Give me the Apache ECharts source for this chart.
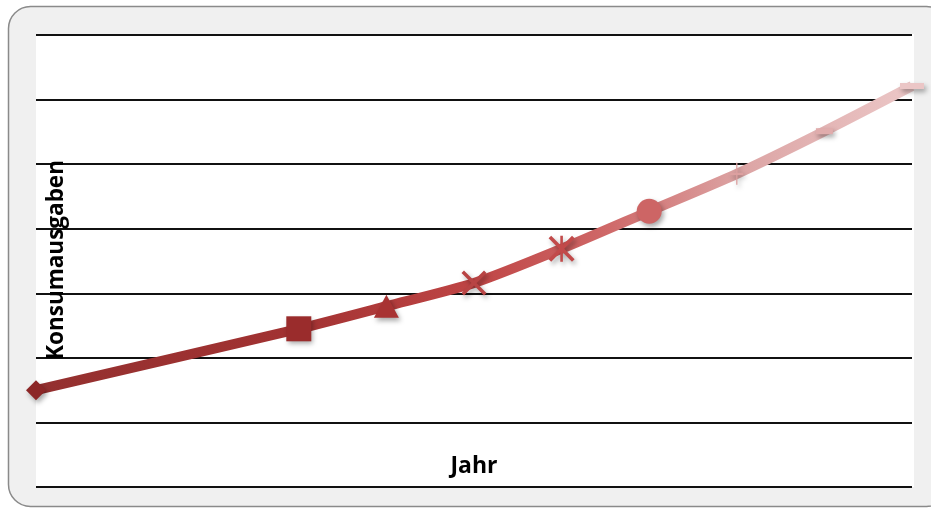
<!DOCTYPE html>
<html><head><meta charset="utf-8">
<script src="https://cdn.jsdelivr.net/npm/echarts@6/dist/echarts.min.js"></script>
<style>html,body{margin:0;padding:0;background:#fff}#c{width:931px;height:509px}</style>
</head><body><div id="c"></div>
<script>
// Data
const years = [0, 3, 4, 5, 6, 7, 8, 9, 10];
const values = [1.50, 2.45, 2.80, 3.16, 3.69, 4.27, 4.85, 5.51, 6.21];
const pointColors = ['#8c2626','#9a2c2c','#a83333','#b84444','#c24a4a','#cd6565','#dca0a0','#e0acac','#ebc6c6'];
const yTicks = [0,1,2,3,4,5,6,7];
const xTitle = 'Jahr';
const yTitle = 'Konsumausgaben';

const X = 'path://M2,0 L10,8 L18,0 L20,2 L12,10 L20,18 L18,20 L10,12 L2,20 L0,18 L8,10 L0,2 Z';
const AST = 'path://M2,0 L10,8 L18,0 L20,2 L12,10 L20,18 L18,20 L10,12 L2,20 L0,18 L8,10 L0,2 Z M9,0 L11,0 L11,20 L9,20 Z';
const PLUS = 'path://M9,0 L11,0 L11,9 L20,9 L20,11 L11,11 L11,20 L9,20 L9,11 L0,11 L0,9 L9,9 Z';
const DASH = 'path://M0,0 L20,0 L20,5 L0,5 Z';
const symbols = ['diamond','rect','triangle',X,AST,'circle',PLUS,DASH,DASH];
const sizes = [[20,20],[25,25],[25,23],[25,25],[26,26],[25,25],[13,22],[17,6],[24,6]];

const chart = echarts.init(document.getElementById('c'), null, {renderer:'canvas'});
const data = years.map((x,i)=>({
  value:[x, values[i]],
  symbol: symbols[i],
  symbolSize: sizes[i],
  itemStyle:{color: pointColors[i], shadowBlur:5, shadowColor:'rgba(0,0,0,0.35)', shadowOffsetX:2, shadowOffsetY:3}
}));
chart.setOption({
  animation:false,
  graphic:[
    {type:'rect', z:-10, shape:{x:8.5,y:6.5,width:940,height:500,r:22}, style:{fill:'#f0f0f0', stroke:'#8a8a8a', lineWidth:1.5}},
    {type:'rect', z:-9, shape:{x:36,y:34,width:878,height:453}, style:{fill:'#ffffff'}},
    {type:'text', z:10, x:474, y:466, style:{text:xTitle, font:'bold 23px "Open Sans", sans-serif', fill:'#000', align:'center', verticalAlign:'middle'}},
    {type:'text', z:10, x:57, y:260, rotation:Math.PI/2, style:{text:yTitle, font:'bold 22.5px "Open Sans", sans-serif', fill:'#000', align:'center', verticalAlign:'middle'}}
  ],
  grid:{left:36, right:19, top:35, bottom:22, containLabel:false},
  xAxis:{type:'value', min:0, max:10, show:true, axisLine:{show:false}, axisTick:{show:false}, axisLabel:{show:false}, splitLine:{show:false}},
  yAxis:{type:'value', min:yTicks[0], max:yTicks[yTicks.length-1], interval:1, axisLine:{show:false}, axisTick:{show:false}, axisLabel:{show:false},
    splitLine:{show:true, lineStyle:{color:'#111', width:2}}},
  series:[{
    type:'line', data:data, smooth:0.25, showSymbol:true, z:5,
    lineStyle:{width:10, color:new echarts.graphic.LinearGradient(0,0,1,0,[
      {offset:0,color:'#93302f'},{offset:0.3,color:'#a23232'},{offset:0.5,color:'#bf4545'},{offset:0.65,color:'#cf6868'},{offset:0.8,color:'#dca4a4'},{offset:1,color:'#ecc8c8'}])}
  }]
});
</script></body></html>
